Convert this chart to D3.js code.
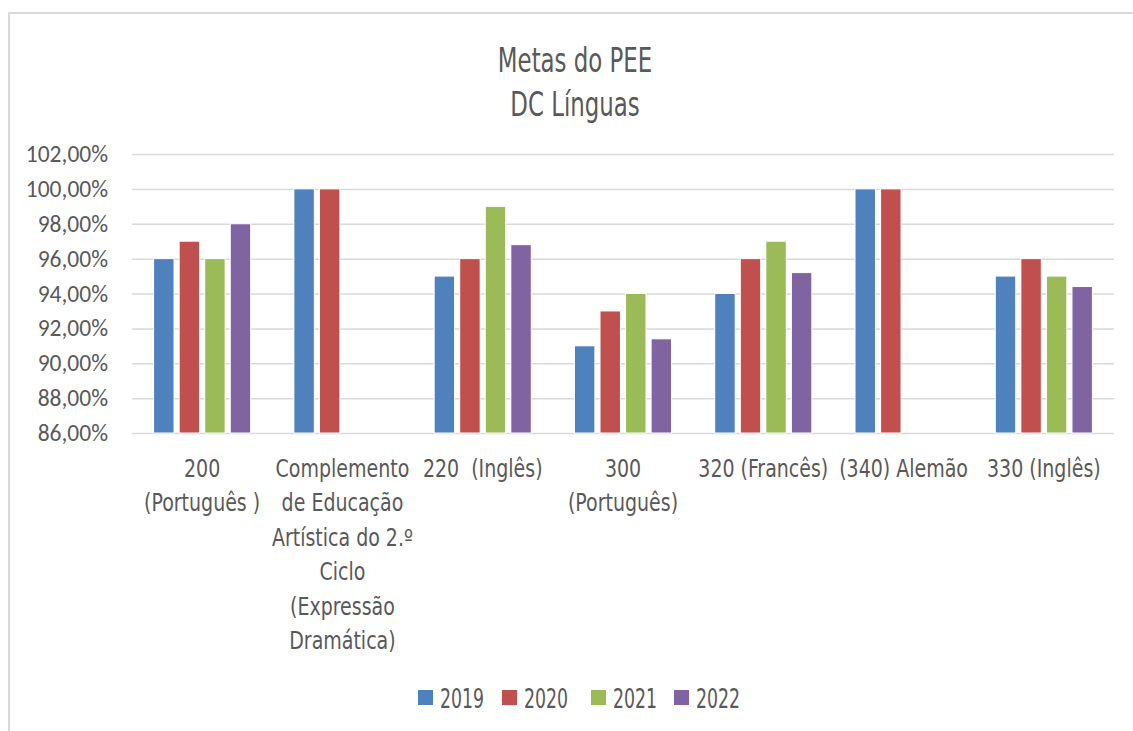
<!DOCTYPE html>
<html lang="pt">
<head>
  <meta charset="UTF-8">
  <title>Metas do PEE - DC Línguas</title>
  <style>
    body {
      margin: 0;
      background: #fff;
      overflow: hidden;
    }
    .narrow {
      font-family: "DejaVu Sans Condensed", "Liberation Sans Narrow", sans-serif;
      fill: #595959;
    }
  </style>
  <script src="https://d3js.org/d3.v7.min.js"></script>
</head>
<body>
  <svg width="1133" height="731"></svg>
  <script>
    // categories as shown, one entry per line of the wrapped label
    const categories = [
      ["200", "(Português )"],
      ["Complemento", "de Educação", "Artística do 2.º", "Ciclo", "(Expressão", "Dramática)"],
      ["220  (Inglês)"],
      ["300", "(Português)"],
      ["320 (Francês)"],
      ["(340) Alemão"],
      ["330 (Inglês)"]
    ];
    const years = ["2019", "2020", "2021", "2022"];
    const colors = ["#4f81bd", "#c0504d", "#9bbb59", "#8064a2"];

    const v2019 = [96, 100, 95, 91, 94, 100, 95];
    const v2020 = [97, 100, 96, 93, 96, 100, 96];
    const v2021 = [96, null, 99, 94, 97, null, 95];
    const v2022 = [98, null, 96.8, 91.4, 95.2, null, 94.4];
    const series = [v2019, v2020, v2021, v2022];

    const yTicks = [86, 88, 90, 92, 94, 96, 98, 100, 102];

    const svg = d3.select("svg");

    // the reference font is very condensed, so squeeze text horizontally
    function squeezed(parent, cx, y, size, sx, lines, lineH, anchor) {
      const g = parent.append("g")
        .attr("class", "narrow")
        .attr("transform", `translate(${cx},${y}) scale(${sx},1)`);
      const t = g.append("text")
        .attr("text-anchor", anchor || "middle")
        .attr("font-size", size)
        .attr("xml:space", "preserve");
      lines.forEach((ln, k) => {
        t.append("tspan")
          .attr("x", 0)
          .attr("dy", k === 0 ? 0 : lineH)
          .text(ln);
      });
      return g;
    }

    // chart frame (cut off at right and bottom)
    svg.append("path")
      .attr("d", "M9,740 V13 H1140")
      .attr("fill", "none")
      .attr("stroke", "#d9d9d9")
      .attr("stroke-width", 2);

    const margin = { left: 132, right: 1114, top: 154, bottom: 433 };

    const x = d3.scaleBand()
      .domain(d3.range(categories.length))
      .range([margin.left, margin.right]);

    const inner = d3.scaleBand()
      .domain(years)
      .range([0, x.bandwidth()])
      .paddingInner(0.2)
      .paddingOuter(0.845);

    const y = d3.scaleLinear()
      .domain([86, 102])
      .range([margin.bottom, margin.top]);

    // grid + labels
    const yAxis = svg.append("g")
      .attr("transform", `translate(${margin.left},0)`)
      .call(d3.axisLeft(y)
        .tickValues(yTicks)
        .tickSize(-(margin.right - margin.left))
        .tickPadding(24)
        .tickFormat(d => d3.format(".2f")(d).replace(".", ",") + "%"));
    yAxis.select(".domain").remove();
    yAxis.attr("font-size", 23.5).attr("font-family", "Carlito, Calibri, Lato, sans-serif");
    yAxis.selectAll(".tick text").attr("fill", "#595959");
    yAxis.selectAll(".tick line")
      .attr("stroke", "#d9d9d9")
      .attr("stroke-width", 1.5);

    // bars
    series.forEach((vals, si) => {
      svg.append("g")
        .selectAll("rect")
        .data(vals.map((v, i) => ({ i, v })).filter(d => d.v != null))
        .join("rect")
        .attr("x", d => x(d.i) + inner(years[si]))
        .attr("width", inner.bandwidth())
        .attr("y", d => y(d.v))
        .attr("height", d => y(86) - y(d.v))
        .attr("fill", colors[si])
        .attr("stroke", "#fff")
        .attr("stroke-width", 1);
    });

    // category labels
    categories.forEach((lines, i) => {
      squeezed(svg, x(i) + x.bandwidth() / 2, 477, 24, 0.88, lines, 34.4);
    });

    // title
    squeezed(svg, 575, 72, 33, 0.77, ["Metas do PEE", "DC Línguas"], 44);

    // legend
    const legendX = [418, 502, 591, 674];
    years.forEach((yr, i) => {
      svg.append("rect")
        .attr("x", legendX[i])
        .attr("y", 690)
        .attr("width", 15)
        .attr("height", 15)
        .attr("fill", colors[i]);
      squeezed(svg, legendX[i] + 22, 708, 26, 0.74, [yr], 0, "start");
    });
  </script>
</body>
</html>
